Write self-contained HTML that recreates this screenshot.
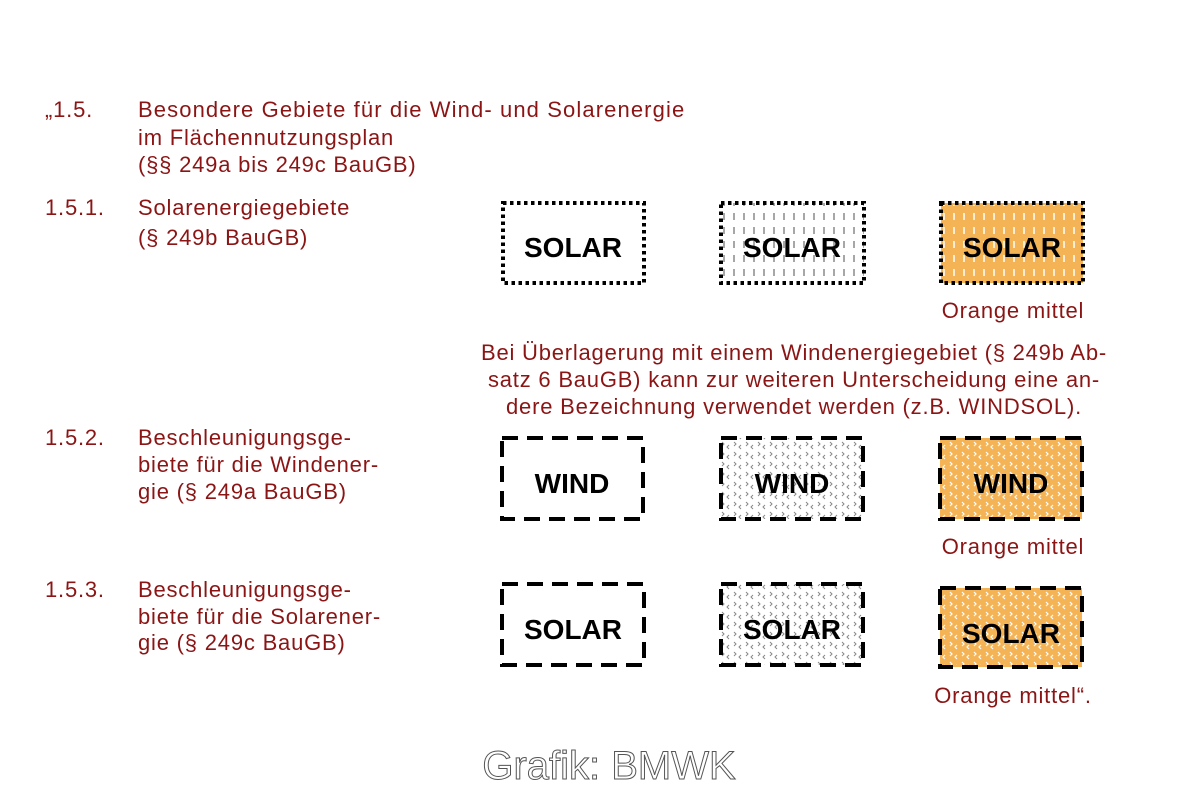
<!DOCTYPE html>
<html><head><meta charset="utf-8"><style>
html,body{margin:0;padding:0;background:#fff;}
svg{display:block;}
.t{font-family:"Liberation Sans",Arial,sans-serif;font-size:22px;letter-spacing:0.8px;fill:#8b1515;}
.b{font-family:"Liberation Sans",Arial,sans-serif;font-size:28px;font-weight:bold;fill:#000;text-anchor:middle;}
</style></head><body>
<svg width="1200" height="800" viewBox="0 0 1200 800" xmlns="http://www.w3.org/2000/svg">
<defs>
<pattern id="vg" width="10" height="14" patternUnits="userSpaceOnUse"><line x1="4" y1="3" x2="4" y2="10" stroke="#777" stroke-width="1.3"/></pattern>
<pattern id="vw" width="10" height="14" patternUnits="userSpaceOnUse"><line x1="4" y1="3" x2="4" y2="10" stroke="#fff" stroke-width="1.5"/></pattern>
<pattern id="cg" width="12" height="10" patternUnits="userSpaceOnUse"><path d="M2 2 L4 4 L2 6 M9 5 L7 7 L9 9" stroke="#888" stroke-width="1" fill="none"/></pattern>
<pattern id="cw" width="12" height="10" patternUnits="userSpaceOnUse"><path d="M2 2 L4 4 L2 6 M9 5 L7 7 L9 9" stroke="#fff" stroke-width="1.2" fill="none"/></pattern>
</defs>
<g class="t">
<text x="45" y="117">„1.5.</text>
<text x="138" y="117" textLength="547" lengthAdjust="spacing">Besondere Gebiete für die Wind- und Solarenergie</text>
<text x="138" y="145">im Flächennutzungsplan</text>
<text x="138" y="172">(§§ 249a bis 249c BauGB)</text>
<text x="45" y="215">1.5.1.</text>
<text x="138" y="215">Solarenergiegebiete</text>
<text x="138" y="245">(§ 249b BauGB)</text>
<text x="45" y="445">1.5.2.</text>
<text x="138" y="445">Beschleunigungsge-</text>
<text x="138" y="472">biete für die Windener-</text>
<text x="138" y="499">gie (§ 249a BauGB)</text>
<text x="45" y="597">1.5.3.</text>
<text x="138" y="597">Beschleunigungsge-</text>
<text x="138" y="624">biete für die Solarener-</text>
<text x="138" y="650">gie (§ 249c BauGB)</text>
<g text-anchor="middle">
<text x="1013" y="318">Orange mittel</text>
<text x="794" y="360" textLength="626" lengthAdjust="spacing">Bei Überlagerung mit einem Windenergiegebiet (§ 249b Ab-</text>
<text x="794" y="387" textLength="612" lengthAdjust="spacing">satz 6 BauGB) kann zur weiteren Unterscheidung eine an-</text>
<text x="794" y="414">dere Bezeichnung verwendet werden (z.B. WINDSOL).</text>
<text x="1013" y="554">Orange mittel</text>
<text x="1013" y="703">Orange mittel“.</text>
</g>
</g>
<g stroke="#000" stroke-width="4" stroke-dasharray="3.5 3.5">
<rect x="503" y="203" width="141" height="80" fill="#fff"/>
<rect x="721" y="203" width="143" height="80" fill="url(#vg)"/>
<rect x="941" y="203" width="142" height="80" fill="#f4b355"/>
</g>
<rect x="943" y="205" width="138" height="76" fill="url(#vw)"/>
<g stroke="#000" stroke-width="4" stroke-dasharray="16 9" fill="none">
<rect x="502" y="438" width="141" height="81" fill="#fff"/>
<rect x="721" y="438" width="142" height="81" fill="url(#cg)"/>
<rect x="940" y="438" width="142" height="81" fill="#f4b355"/>
<rect x="502" y="584" width="142" height="81" fill="#fff"/>
<rect x="721" y="584" width="142" height="81" fill="url(#cg)"/>
<rect x="940" y="588" width="142" height="79" fill="#f4b355"/>
</g>
<rect x="942" y="440" width="138" height="77" fill="url(#cw)"/>
<rect x="942" y="590" width="138" height="75" fill="url(#cw)"/>
<text class="b" x="573" y="257">SOLAR</text>
<text class="b" x="792" y="257">SOLAR</text>
<text class="b" x="1012" y="257">SOLAR</text>
<text class="b" x="572" y="493">WIND</text>
<text class="b" x="792" y="493">WIND</text>
<text class="b" x="1011" y="493">WIND</text>
<text class="b" x="573" y="639">SOLAR</text>
<text class="b" x="792" y="639">SOLAR</text>
<text class="b" x="1011" y="643">SOLAR</text>
<text x="609" y="779" text-anchor="middle" font-family="'Liberation Sans',Arial,sans-serif" font-size="40" fill="#fff" stroke="#555" stroke-width="1">Grafik: BMWK</text>
</svg>
</body></html>
